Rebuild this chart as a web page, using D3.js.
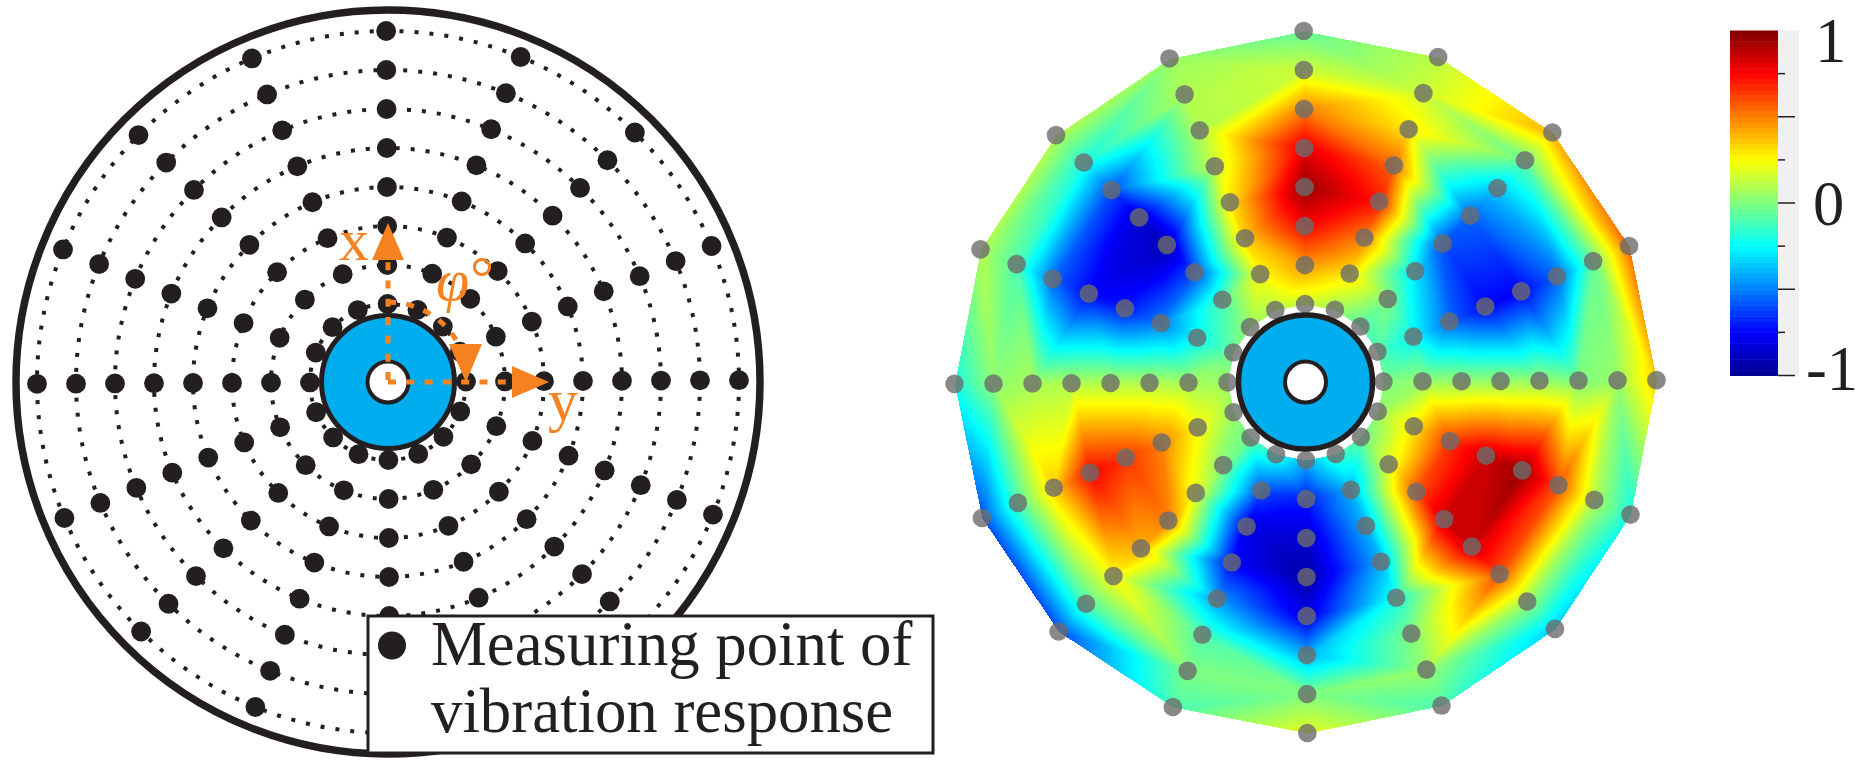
<!DOCTYPE html>
<meta charset='utf-8'>
<style>

body { margin: 0; background: #fff; overflow: hidden; }
canvas, svg { position: absolute; left: 0; top: 0; }
svg text { font-family: 'Liberation Serif', serif; fill: #231f20; }
svg text.note { fill: #f58220; }

</style>

<script src='https://d3js.org/d3.v7.min.js'></script>

<script>
window.onload = () => {
'use strict'

// Data - measuring grid (ring radius in grid units, spoke bearing in degrees)

let ring_radius = [2, 3, 4, 5, 6, 7, 8, 9],
	spoke_deg = [0, 22.5, 45, 67.5, 90, 112.5, 135, 157.5, 180, 202.5, 225, 247.5, 270, 292.5, 315, 337.5],
	cbar_major = [-1, -0.5, 0, 0.5],
	cbar_minor = [-0.75, -0.25, 0.25, 0.75],
	cbar_labels = ['1', '0', '-1'],
	legend_lines = ['Measuring point of', 'vibration response']

// Response per spoke (clockwise from top), values go from inner ring to outer ring
let field = [
	[0.15, 0.45, 0.75, 0.95, 0.8, 0.5, 0.15, -0.05],
	[0.05, 0.3, 0.5, 0.7, 0.55, 0.3, 0.15, 0.12],
	[-0.1, 0, -0.3, -0.6, -0.55, -0.35, -0.05, 0.4],
	[-0.1, -0.25, -0.55, -0.75, -0.75, -0.55, -0.05, 0.55],
	[0, 0.05, 0.05, 0.05, 0.05, 0, 0.05, 0.35],
	[0.05, 0.3, 0.65, 0.85, 0.95, 0.6, 0.1, -0.2],
	[-0.05, 0.2, 0.6, 0.85, 0.85, 0.6, 0.05, -0.35],
	[-0.15, -0.4, -0.4, -0.4, -0.2, 0, 0.05, -0.1],
	[-0.4, -0.7, -0.85, -0.95, -0.8, -0.4, 0, 0.2],
	[-0.2, -0.6, -0.8, -0.75, -0.45, -0.1, 0, -0.1],
	[-0.05, 0, 0.2, 0.5, 0.4, 0.25, -0.1, -0.6],
	[0.05, 0.25, 0.5, 0.65, 0.75, 0.35, -0.1, -0.6],
	[0.05, 0.08, 0.1, 0.1, 0.1, 0.08, 0.03, -0.2],
	[-0.05, -0.25, -0.5, -0.7, -0.75, -0.55, -0.1, 0.1],
	[0.05, -0.1, -0.6, -0.9, -0.85, -0.6, -0.2, 0.1],
	[0.1, 0.25, 0.35, 0.3, 0.15, 0.1, 0.1, 0.05] ]


// Scales and boilerplate

let ink = '#231f20', orange = '#f58220', hub_blue = '#00adef',
	width = 1856, height = 768,
	left_c = [388, 382], right_c = [1305.5, 382],
	tilt = -0.3, // both drawings are rotated a little
	r = d3.scaleLinear([0, 9], [0, 351]),
	angle = d3.scaleLinear([0, 360], [0, 2 * Math.PI]),
	jet = d3.scaleLinear(
		[-1, -0.75, -0.25, 0.25, 0.75, 1],
		['#00008f', '#0000ff', '#00ffff', '#ffff00', '#ff0000', '#800000'] ).clamp(true),
	cbar_y = d3.scaleLinear([-1, 1], [375.5, 30.5])

let nodes = spoke_deg.flatMap((deg, s) => ring_radius.map((rr, i) => {
	let [x, y] = d3.pointRadial(angle(deg + tilt), r(rr))
	return {x, y, ring: i, value: field[s][i]} }))

let canvas = d3.select('body').append('canvas').attr('width', width).attr('height', height),
	svg = d3.select('body').append('svg').attr('width', width).attr('height', height)


// Right side heat map - linear interpolation over delaunay triangles

let draw_heat = () => {
	let ctx = canvas.node().getContext('2d'),
		img = ctx.createImageData(width, height),
		pts = nodes.map(d => [d.x + right_c[0], d.y + right_c[1]]),
		tris = d3.Delaunay.from(pts).triangles
	for (let t = 0; t < tris.length; t += 3) {
		let [a, b, c] = [nodes[tris[t]], nodes[tris[t+1]], nodes[tris[t+2]]]
		if (a.ring == 0 && b.ring == 0 && c.ring == 0) continue // hole around the hub
		let [pa, pb, pc] = [pts[tris[t]], pts[tris[t+1]], pts[tris[t+2]]],
			det = (pb[1] - pc[1]) * (pa[0] - pc[0]) + (pc[0] - pb[0]) * (pa[1] - pc[1]),
			x0 = Math.floor(Math.min(pa[0], pb[0], pc[0])), x1 = Math.ceil(Math.max(pa[0], pb[0], pc[0])),
			y0 = Math.floor(Math.min(pa[1], pb[1], pc[1])), y1 = Math.ceil(Math.max(pa[1], pb[1], pc[1]))
		for (let y = y0; y <= y1; y++) for (let x = x0; x <= x1; x++) {
			let l1 = ((pb[1] - pc[1]) * (x - pc[0]) + (pc[0] - pb[0]) * (y - pc[1])) / det,
				l2 = ((pc[1] - pa[1]) * (x - pc[0]) + (pa[0] - pc[0]) * (y - pc[1])) / det,
				l3 = 1 - l1 - l2
			if (l1 < 0 || l2 < 0 || l3 < 0) continue
			let col = d3.rgb(jet(l1 * a.value + l2 * b.value + l3 * c.value)),
				n = (y * width + x) * 4
			img.data[n] = col.r; img.data[n+1] = col.g; img.data[n+2] = col.b; img.data[n+3] = 255 } }
	ctx.putImageData(img, 0, 0) }
draw_heat()

let draw_hub = (g, r1, w1, r2, w2) => {
	g.append('circle').attr('r', r1).attr('fill', hub_blue).attr('stroke', ink).attr('stroke-width', w1)
	g.append('circle').attr('r', r2).attr('fill', '#fff').attr('stroke', ink).attr('stroke-width', w2) }

let heat = svg.append('g').attr('transform', `translate(${right_c})`)
heat.append('g').selectAll('circle').data(nodes).join('circle')
	.attr('cx', d => d.x).attr('cy', d => d.y).attr('r', 9.3)
	.attr('fill', '#6b6b6b').attr('fill-opacity', 0.8)
heat.call(draw_hub, 67, 5.5, 20.5, 4)


// Left side - measuring points

let grid = svg.append('g').attr('transform', `translate(${left_c})`)
grid.append('circle').attr('r', 372).attr('fill', 'none')
	.attr('stroke', ink).attr('stroke-width', 7.5)
grid.append('g').selectAll('circle').data(ring_radius).join('circle')
	.attr('r', d => r(d)).attr('fill', 'none').attr('stroke', ink)
	.attr('stroke-width', 4).attr('stroke-dasharray', '4 11')
grid.append('g').selectAll('circle').data(nodes).join('circle')
	.attr('cx', d => d.x).attr('cy', d => d.y).attr('r', 9.9).attr('fill', ink)
grid.call(draw_hub, 66.5, 5, 20.5, 4)


// Orange coordinate system

let note = svg.append('g').attr('transform', `translate(${left_c})`),
	line = d3.line(),
	arc = d3.path()
arc.arc(0, 0, 80, -Math.PI / 2, -Math.PI / 2 + angle(62))
note.selectAll('path.axis')
	.data([line([[0, -2], [0, -130]]), line([[0, 0], [125, 0]]), arc.toString()])
	.join('path').attr('class', 'axis').attr('d', d => d).attr('fill', 'none')
	.attr('stroke', orange).attr('stroke-width', 5).attr('stroke-dasharray', '8 10.3')
note.selectAll('path.head')
	.data([
		[[0, -159], [-16, -122], [16, -122]],
		[[161, 0], [124, -16], [124, 16]],
		[[78, 0], [61, -38], [94, -38]] ])
	.join('path').attr('class', 'head').attr('d', d => line(d) + 'Z').attr('fill', orange)
svg.selectAll('text.note')
	.data([
		{t: 'x', x: 339, y: 260, style: 'normal'},
		{t: 'y', x: 548, y: 420, style: 'normal'},
		{t: '\u03c6', x: 436, y: 300, style: 'italic'},
		{t: '\u00b0', x: 470, y: 298, style: 'normal'} ])
	.join('text').attr('class', 'note').text(d => d.t)
	.attr('x', d => d.x).attr('y', d => d.y)
	.attr('font-size', 60).attr('font-style', d => d.style)


// Legend box

let legend = svg.append('g')
legend.append('rect').attr('x', 368).attr('y', 616).attr('width', 565).attr('height', 137)
	.attr('fill', '#fff').attr('stroke', ink).attr('stroke-width', 3)
legend.append('circle').attr('cx', 392).attr('cy', 645.5).attr('r', 14).attr('fill', ink)
legend.selectAll('text').data(legend_lines).join('text').text(d => d)
	.attr('x', 431).attr('y', (d, i) => 665 + i * 67).attr('font-size', 62.8)


// Colorbar

let cbar = svg.append('g'),
	cbar_steps = d3.range(64).map(i => -1 + i / 32)
cbar.append('rect').attr('x', 1777).attr('y', cbar_y(1)).attr('width', 22)
	.attr('height', cbar_y(-1) - cbar_y(1)).attr('fill', '#f0f0f0')
cbar.append('g').selectAll('rect').data(cbar_steps).join('rect')
	.attr('x', 1730).attr('width', 48)
	.attr('y', d => cbar_y(d + 1 / 32))
	.attr('height', cbar_y(0) - cbar_y(1 / 32) + 0.5)
	.attr('fill', d => jet(d + 1 / 64))
cbar.append('g').selectAll('line')
	.data([...cbar_major.map(v => [v, 17]), ...cbar_minor.map(v => [v, 7])]).join('line')
	.attr('x1', 1778).attr('x2', d => 1778 + d[1])
	.attr('y1', d => cbar_y(d[0])).attr('y2', d => cbar_y(d[0]))
	.attr('stroke', ink).attr('stroke-width', 1.5)
cbar.selectAll('text').data(cbar_labels).join('text').text(d => d)
	.attr('x', (d, i) => [1815, 1813, 1806][i]).attr('y', (d, i) => [62, 225, 390][i])
	.attr('font-size', 62.5)

}
</script>
